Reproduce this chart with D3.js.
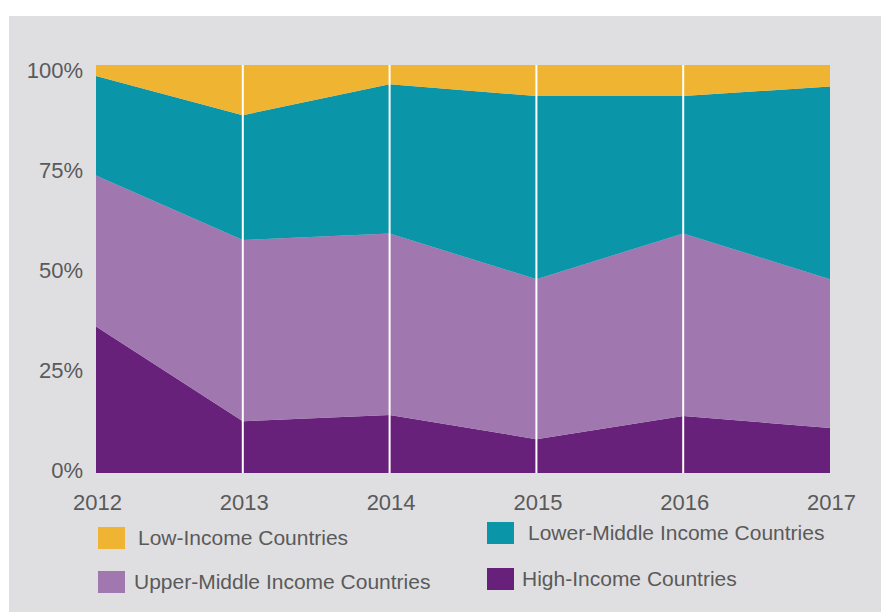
<!DOCTYPE html>
<html><head><meta charset="utf-8">
<script src="https://cdn.jsdelivr.net/npm/d3@7"></script>
<style>html,body{margin:0;padding:0;background:#fff;}svg{display:block;}</style>
</head><body>
<svg id="chart" width="881" height="612"></svg>
<script>
const years = [2012, 2013, 2014, 2015, 2016, 2017];
const seriesNames = ["High-Income Countries", "Upper-Middle Income Countries", "Lower-Middle Income Countries", "Low-Income Countries"];
const highIncome = [35.9, 12.7, 14.2, 8.3, 14.0, 11.0];
const upperMiddle = [37.0, 44.4, 44.5, 39.2, 44.7, 36.5];
const lowerMiddle = [24.4, 30.6, 36.6, 44.9, 33.7, 47.2];
const lowIncome = [2.7, 12.3, 4.7, 7.6, 7.6, 5.3];
const yTicks = [0, 25, 50, 75, 100];
const colors = ["#68217a", "#a077ae", "#0a96a8", "#f0b433"];

const data = years.map((y, i) => ({
  year: y,
  "High-Income Countries": highIncome[i],
  "Upper-Middle Income Countries": upperMiddle[i],
  "Lower-Middle Income Countries": lowerMiddle[i],
  "Low-Income Countries": lowIncome[i]
}));

const svg = d3.select("#chart");
svg.append("rect").attr("x", 9).attr("y", 16).attr("width", 872).attr("height", 596).attr("fill", "#dfdfe1");

const x = d3.scaleLinear().domain([2012, 2017]).range([96, 830]);
const y = d3.scaleLinear().domain([0, 100]).range([473, 65]);
const yLabel = d3.scaleLinear().domain([0, 100]).range([470, 70]);

const stack = d3.stack().keys(seriesNames).offset(d3.stackOffsetExpand);
const layers = stack(data);
const area = d3.area().x(d => x(d.data.year)).y0(d => y(d[0] * 100)).y1(d => y(d[1] * 100));

svg.append("g").selectAll("path").data(layers).join("path")
  .attr("d", area).attr("fill", (d, i) => colors[i]);

// vertical white gridlines
svg.append("g").selectAll("line").data(years.slice(1, -1)).join("line")
  .attr("x1", d => x(d)).attr("x2", d => x(d))
  .attr("y1", y(100)).attr("y2", y(0))
  .attr("stroke", "#ffffff").attr("stroke-width", 2);

const font = "'Liberation Sans', Arial, sans-serif";
const textColor = "#5a5a5a";

// y axis
const yAxis = d3.axisLeft(yLabel).tickValues(yTicks).tickFormat(d => d + "%").tickSize(0).tickPadding(0);
const gy = svg.append("g").attr("transform", "translate(83,0)").call(yAxis);
gy.select(".domain").remove();
gy.selectAll("text").attr("font-family", font).attr("font-size", 22).attr("fill", textColor);

// x axis
const xAxis = d3.axisBottom(x).tickValues(years).tickFormat(d3.format("d")).tickSize(0).tickPadding(0);
const gx = svg.append("g").attr("transform", "translate(1,494)").call(xAxis);
gx.select(".domain").remove();
gx.selectAll("text").attr("font-family", font).attr("font-size", 22).attr("fill", textColor);

// legend
const legendItems = [
  {name: "Low-Income Countries", color: colors[3], sx: 98, sy: 527, tx: 138},
  {name: "Upper-Middle Income Countries", color: colors[1], sx: 98, sy: 571, tx: 134},
  {name: "Lower-Middle Income Countries", color: colors[2], sx: 487, sy: 522, tx: 528},
  {name: "High-Income Countries", color: colors[0], sx: 487, sy: 568, tx: 522}
];
const lg = svg.append("g");
legendItems.forEach(it => {
  lg.append("rect").attr("x", it.sx).attr("y", it.sy).attr("width", 27).attr("height", 22).attr("fill", it.color);
  lg.append("text").attr("x", it.tx).attr("y", it.sy + 18).text(it.name)
    .attr("font-family", font).attr("font-size", 21).attr("fill", textColor);
});
</script>
</body></html>
